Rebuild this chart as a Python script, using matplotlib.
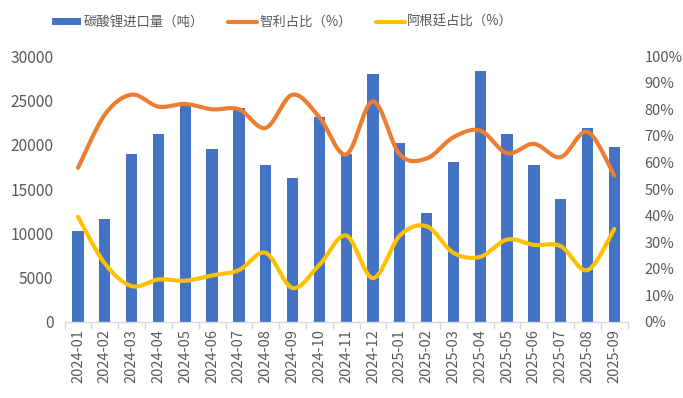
import numpy as np
import matplotlib
matplotlib.use("Agg")
import matplotlib.pyplot as plt
from matplotlib.ticker import FuncFormatter

plt.rcParams['font.family'] = ['Noto Sans CJK SC', 'DejaVu Sans']

months = ["2024-01", "2024-02", "2024-03", "2024-04", "2024-05", "2024-06", "2024-07",
          "2024-08", "2024-09", "2024-10", "2024-11", "2024-12", "2025-01", "2025-02",
          "2025-03", "2025-04", "2025-05", "2025-06", "2025-07", "2025-08", "2025-09"]
imports = [10300, 11600, 19000, 21200, 24700, 19500, 24200, 17700, 16200, 23100, 19000,
           28000, 20200, 12300, 18100, 28300, 21200, 17700, 13900, 21900, 19700]
chile = [58, 78, 85.5, 81, 82, 80, 80, 73, 85.5, 77, 63, 83, 63, 61.5, 69.5, 72, 63.5, 67, 62, 71.5, 55]
argentina = [39.5, 22, 13.5, 16, 15.5, 17.5, 19.5, 26, 12.8, 21.5, 32.5, 16.5, 32.5, 36, 26, 24.5, 31, 29, 28.5, 19.5, 35]

label_bar = "碳酸锂进口量（吨）"
label_chile = "智利占比（%）"
label_arg = "阿根廷占比（%）"

BLUE = "#4472C4"
ORANGE = "#ED7D31"
YELLOW = "#FFC000"
GREY = "#595959"


def smooth(xs, ys, n=30):
    xs = np.asarray(xs, float)
    ys = np.asarray(ys, float)
    P = np.column_stack([xs, ys])
    P = np.vstack([P[0], P, P[-1]])
    out = []
    t = np.linspace(0, 1, n)[:, None]
    for i in range(1, len(P) - 2):
        p0, p1, p2, p3 = P[i - 1], P[i], P[i + 1], P[i + 2]
        c1 = p1 + (p2 - p0) / 6.0
        c2 = p2 - (p3 - p1) / 6.0
        seg = ((1 - t) ** 3) * p1 + 3 * ((1 - t) ** 2) * t * c1 + 3 * (1 - t) * t ** 2 * c2 + t ** 3 * p2
        out.append(seg if i == 1 else seg[1:])
    out = np.vstack(out)
    return out[:, 0], out[:, 1]


fig = plt.figure(figsize=(6.83, 3.98), dpi=100)
ax = fig.add_axes([0.0946, 0.191, 0.8245, 0.668])
ax2 = ax.twinx()

x = np.arange(len(months))
bars = ax.bar(x, imports, width=0.42, color=BLUE, label=label_bar, zorder=2)
ax.set_xlim(-0.5, len(months) - 0.5)
ax.set_ylim(0, 30000)
ax.set_yticks(np.arange(0, 30001, 5000))

cx, cy = smooth(x, chile)
ax2x, ax2y = smooth(x, argentina)
l1, = ax2.plot(cx, cy, color=ORANGE, lw=3, solid_capstyle='round', label=label_chile, zorder=3)
l2, = ax2.plot(ax2x, ax2y, color=YELLOW, lw=3, solid_capstyle='round', label=label_arg, zorder=3)
ax2.set_ylim(0, 100)
ax2.set_yticks(np.arange(0, 101, 10))
ax2.yaxis.set_major_formatter(FuncFormatter(lambda v, p: f"{int(v)}%"))

ax.set_xticks(x)
ax.set_xticklabels(months, rotation=90)
ax.set_xticks(np.arange(-0.5, len(months), 1), minor=True)
ax.tick_params(axis='x', which='major', length=0, pad=5, labelsize=10.5, labelcolor=GREY)
ax.tick_params(axis='x', which='minor', length=5, color="#D9D9D9", width=1)
ax.tick_params(axis='y', length=0, labelsize=11.2, labelcolor=GREY, pad=8)
ax2.tick_params(axis='y', length=0, labelsize=10.5, labelcolor=GREY, pad=12)

for a in (ax, ax2):
    for s in ("top", "left", "right", "bottom"):
        a.spines[s].set_visible(False)
ax.spines["bottom"].set_visible(True)
ax.spines["bottom"].set_color("#D9D9D9")
ax.spines["bottom"].set_linewidth(1)

fig.legend([bars, l1, l2], [label_bar, label_chile, label_arg], loc="upper left",
           bbox_to_anchor=(52 / 683, 0.962), ncol=3, frameon=False, fontsize=9.6,
           labelcolor=GREY, handlelength=2.2, handleheight=0.45, handletextpad=0.15,
           columnspacing=1.8, borderpad=0, borderaxespad=0)

fig.savefig("out.png", dpi=100)
